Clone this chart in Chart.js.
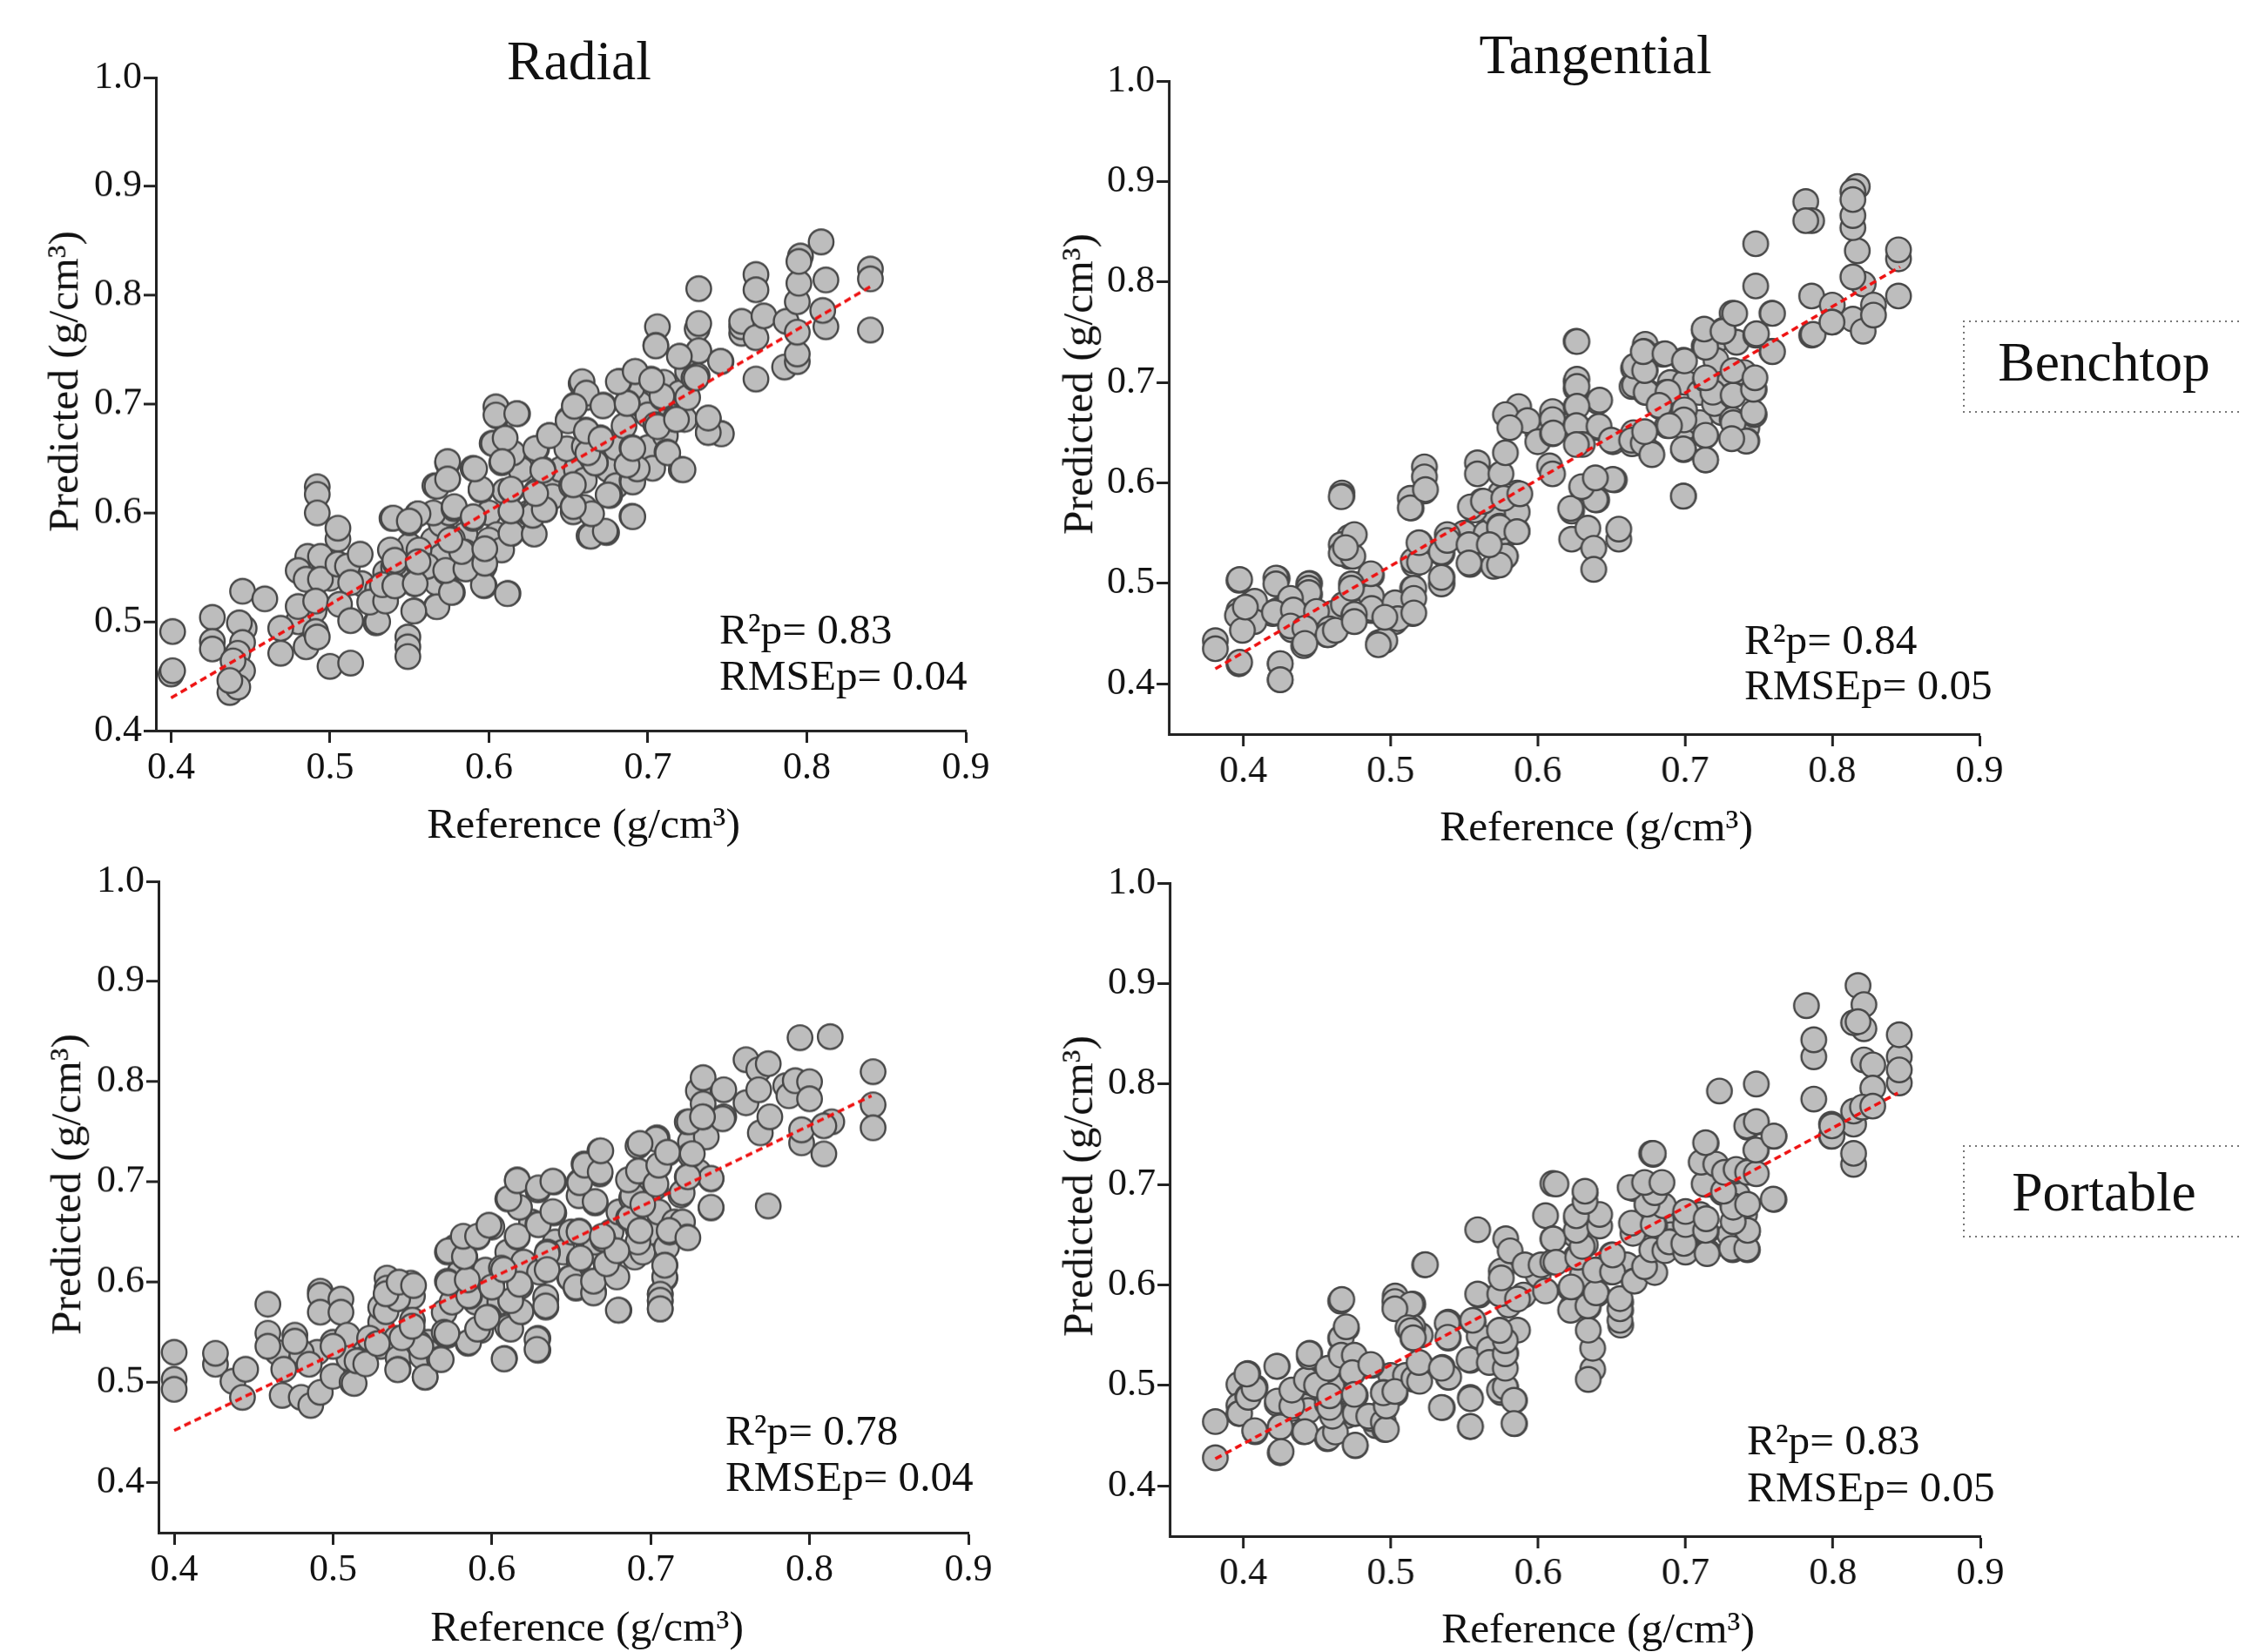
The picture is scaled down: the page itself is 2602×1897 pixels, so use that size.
<!DOCTYPE html>
<html><head><meta charset="utf-8">
<script src="https://cdn.jsdelivr.net/npm/chart.js@4"></script>
<style>
html,body{margin:0;padding:0;background:#fff;width:2602px;height:1897px;overflow:hidden}
canvas{position:absolute}
.t{position:absolute;font-family:"Liberation Serif",serif;color:#111;white-space:nowrap;line-height:1}
.c{transform:translate(-50%,-50%)}
.l{transform:translateY(-50%)}
.r{transform:translate(-50%,-50%) rotate(-90deg)}
.box{position:absolute;box-sizing:border-box;
 background:
  repeating-linear-gradient(90deg,#777 0 2px,transparent 2px 7px) left top/100% 2px no-repeat,
  repeating-linear-gradient(90deg,#777 0 2px,transparent 2px 7px) left bottom/100% 2px no-repeat,
  repeating-linear-gradient(0deg,#777 0 2px,transparent 2px 7px) left top/2px 100% no-repeat}
</style></head><body>
<canvas id="c0"></canvas><canvas id="c1"></canvas><canvas id="c2"></canvas><canvas id="c3"></canvas>
<script>
const xTickValues=[0.4,0.5,0.6,0.7,0.8,0.9];
const yTickValues=[0.4,0.5,0.6,0.7,0.8,0.9,1.0];
const xAxisLabel="Reference (g/cm³)";
const yAxisLabel="Predicted (g/cm³)";
const radialFit=[[0.4,0.43],[0.84,0.808]];
const tangentialFit=[[0.381,0.415],[0.846,0.815]];
const radialPortableFit=[[0.4,0.452],[0.839,0.786]];
const tangentialPortableFit=[[0.381,0.427],[0.844,0.791]];
const radialBenchtop=[[.52,.535],[.53,.53],[.535,.545],[.54,.55],[.545,.56],[.55,.54],[.56,.56],[.565,.575],[.57,.59],[.575,.6],[.58,.57],[.585,.58],[.59,.56],[.6,.6],[.605,.58],[.61,.62],[.62,.64],[.625,.6],[.63,.62],[.615,.655],[.64,.63],[.645,.64],[.655,.64],[.66,.63],[.665,.65],[.67,.66],[.675,.64],[.68,.66],[.685,.68],[.695,.7],[.7,.69],[.71,.72],[.715,.69],[.72,.71],[.725,.73],[.69,.715],[.7,.66],[.68,.625],[.66,.605],[.64,.615],[.6,.575],[.595,.545],[.58,.55],[.57,.56],[.565,.6],[.55,.57],[.53,.52],[.51,.545],[.5,.54],[.49,.51],[.48,.5],[.44,.46],
[.401,.491],[.4,.452],[.401,.455],[.426,.504],[.426,.482],[.426,.475],[.445,.528],[.459,.521],[.446,.494],[.443,.499],[.445,.481],[.442,.471],[.445,.455],[.439,.464],[.437,.435],[.442,.44],[.437,.446],[.469,.494],[.469,.471],[.48,.514],[.485,.477],[.491,.491],[.492,.486],[.492,.624],[.492,.617],[.492,.6],[.505,.576],[.505,.586],[.486,.56],[.494,.56],[.48,.547],[.485,.539],[.494,.539],[.491,.519],[.505,.553],[.511,.551],[.519,.562],[.513,.536],[.506,.516],[.513,.501],[.5,.459],[.513,.462],[.529,.499],[.53,.5],[.549,.486],[.549,.477],[.549,.468],[.553,.51],[.567,.514],[.577,.527],[.525,.518],[.535,.519],[.533,.534],[.541,.533],[.553,.535],[.539,.595],[.55,.591],[.555,.599],[.538,.566],[.541,.554],[.555,.554],[.556,.566],[.567,.536],[.573,.546],[.561,.551],[.612,.526],[.597,.533],[.597,.551],[.598,.566],[.585,.564],[.577,.576],[.578,.604],[.59,.595],[.595,.621],[.59,.641],[.574,.646],[.574,.631],[.566,.625],[.608,.646],[.602,.664],[.61,.669],[.605,.696],[.605,.689],[.618,.691],[.614,.621],[.614,.601],[.614,.581],[.608,.566],[.628,.581],[.635,.603],[.628,.601],[.634,.64],[.63,.659],[.638,.671],[.65,.686],[.654,.699],[.658,.719],[.661,.706],[.649,.659],[.652,.625],[.653,.606],[.653,.601],[.663,.579],[.674,.582],[.69,.597],[.721,.64],[.69,.63],[.676,.616],[.687,.644],[.69,.66],[.667,.646],[.66,.661],[.661,.676],[.672,.699],[.67,.669],[.687,.701],[.682,.721],[.692,.73],[.702,.723],[.706,.771],[.705,.754],[.709,.706],[.705,.681],[.711,.671],[.712,.656],[.703,.641],[.717,.686],[.723,.686],[.725,.706],[.72,.744],[.731,.726],[.729,.724],[.732,.749],[.731,.769],[.732,.774],[.732,.806],[.738,.686],[.738,.674],[.746,.673],[.746,.739],[.768,.723],[.759,.765],[.759,.771],[.759,.776],[.768,.819],[.768,.805],[.768,.761],[.773,.781],[.786,.734],[.794,.739],[.794,.746],[.787,.776],[.794,.766],[.794,.794],[.795,.811],[.796,.836],[.795,.831],[.809,.849],[.812,.814],[.812,.771],[.81,.786],[.84,.824],[.84,.815],[.84,.768],
[.5408,.533],[.5408,.5565],[.5673,.5138],[.5527,.5098],[.5536,.5351],[.5764,.527],[.5728,.5471],[.5965,.5338],[.6116,.5258],[.5855,.5485],[.5974,.5538],[.5828,.5645],[.5554,.5551],[.5755,.5752],[.5974,.5671],[.5399,.5952],[.5554,.5992],[.5499,.5925],[.5782,.6058],[.5901,.5965],[.6139,.5813],[.6285,.5805],[.6276,.5978],[.6139,.6018],[.6348,.6032],[.6294,.6178],[.5673,.6245],[.574,.6472],[.574,.6312],[.595,.6218],[.6139,.6218],[.591,.6405],[.6029,.6637],[.6102,.6686],[.6084,.6472],[.6044,.6974],[.6044,.6899],[.6175,.6912],[.6294,.6592],[.6339,.6392],[.6381,.671],[.6641,.5786],[.6732,.5832],[.6646,.5992],[.6531,.6058],[.6531,.6259],[.6668,.6459],[.6622,.6552],[.675,.6165],[.6905,.5965],[.6905,.6285],[.6933,.6405],[.6869,.644],[.6905,.6592],[.7125,.6552],[.7221,.6397],[.6498,.6846],[.6613,.6752],[.6705,.668],[.7061,.6792],[.718,.6859],[.7462,.6726],[.738,.6739],[.738,.6872],[.6586,.7206],[.6613,.71],[.6537,.698],[.6717,.6984],[.6869,.7006],[.7088,.7073],[.6814,.7206],[.692,.73],[.7024,.722],[.7304,.724],[.705,.7534],[.732,.749],[.7198,.7438],[.7457,.7393]];
const tangentialBenchtop=[[.42,.47],[.45,.47],[.46,.47],[.5,.47],[.55,.55],[.565,.55],[.57,.57],[.58,.55],[.6,.65],[.62,.66],[.665,.65],[.675,.69],[.69,.7],[.7,.7],[.71,.69],[.72,.7],[.73,.7],[.74,.71],[.72,.74],[.735,.74],[.7,.655],[.71,.66],[.69,.67],[.725,.67],
[.381,.443],[.381,.435],[.397,.503],[.397,.473],[.396,.468],[.406,.481],[.406,.462],[.397,.42],[.425,.42],[.425,.404],[.423,.505],[.423,.473],[.433,.484],[.433,.473],[.433,.454],[.441,.438],[.445,.5],[.445,.489],[.441,.454],[.457,.454],[.457,.449],[.468,.479],[.475,.468],[.475,.499],[.475,.495],[.467,.59],[.467,.587],[.472,.546],[.468,.535],[.472,.527],[.47,.533],[.487,.508],[.487,.487],[.487,.473],[.492,.441],[.503,.462],[.515,.495],[.515,.484],[.515,.47],[.516,.519],[.52,.54],[.514,.584],[.514,.575],[.523,.616],[.523,.592],[.523,.606],[.535,.5],[.535,.506],[.535,.53],[.539,.546],[.554,.519],[.554,.538],[.557,.573],[.559,.62],[.559,.609],[.562,.582],[.57,.517],[.575,.522],[.578,.527],[.574,.546],[.574,.557],[.586,.552],[.586,.571],[.586,.59],[.575,.59],[.575,.609],[.578,.63],[.587,.676],[.578,.668],[.593,.662],[.581,.655],[.6,.641],[.608,.617],[.61,.609],[.61,.671],[.61,.663],[.61,.649],[.626,.741],[.626,.701],[.626,.694],[.626,.676],[.626,.658],[.63,.639],[.641,.681],[.641,.655],[.651,.641],[.623,.572],[.623,.544],[.63,.595],[.64,.603],[.652,.603],[.64,.583],[.634,.555],[.638,.535],[.638,.514],[.655,.544],[.655,.554],[.664,.639],[.672,.649],[.677,.63],[.664,.696],[.665,.714],[.673,.738],[.672,.731],[.673,.712],[.673,.69],[.685,.728],[.687,.69],[.683,.676],[.699,.722],[.699,.671],[.699,.633],[.699,.587],[.688,.657],[.714,.623],[.714,.647],[.714,.703],[.713,.752],[.713,.736],[.721,.722],[.72,.679],[.726,.752],[.732,.769],[.732,.687],[.732,.663],[.742,.655],[.742,.642],[.747,.693],[.747,.668],[.748,.796],[.748,.838],[.748,.747],[.759,.769],[.759,.731],[.782,.88],[.786,.861],[.782,.861],[.786,.786],[.786,.747],[.8,.777],[.8,.76],[.814,.763],[.821,.751],[.821,.798],[.814,.805],[.817,.831],[.814,.854],[.814,.866],[.817,.895],[.814,.89],[.814,.882],[.828,.777],[.828,.767],[.845,.786],[.845,.823],[.845,.832],
[.3975,.4215],[.3975,.5039],[.4077,.4822],[.4073,.462],[.3994,.4533],[.4014,.4764],[.4251,.4201],[.4251,.4042],[.4221,.5053],[.4221,.4995],[.4444,.4995],[.4444,.4952],[.4444,.4909],[.432,.4851],[.4211,.4712],[.434,.4735],[.4497,.4721],[.432,.4576],[.4418,.4553],[.4418,.4403],[.4586,.4547],[.4576,.449],[.4625,.4533],[.4665,.5862],[.4665,.5385],[.4665,.5298],[.4744,.527],[.4754,.5486],[.4694,.5356],[.4866,.5096],[.4734,.4995],[.4734,.4952],[.4872,.475],[.4754,.4692],[.4754,.462],[.4961,.4432],[.4917,.4389],[.503,.4807],[.5049,.4649],[.4961,.4663],[.5158,.4952],[.5158,.4851],[.5158,.4706],[.5154,.5226],[.5197,.5212],[.5193,.5405],[.5134,.5847],[.5134,.5752],[.5237,.5934],[.5345,.5313],[.5345,.4995],[.5345,.5059],[.5385,.5486],[.5385,.5428],[.5533,.5385],[.5533,.5203],[.5542,.5761],[.5631,.5818],[.5769,.5847],[.5878,.5891],[.574,.5486],[.574,.5558],[.5858,.5515],[.5779,.527],[.574,.5183],[.5671,.5385],
[.6223,.5746],[.6391,.5833],[.6298,.5963],[.6509,.6035],[.6391,.605],[.6988,.5868],[.6105,.6497],[.6266,.7407],[.6266,.7032],[.6266,.696],[.642,.6824],[.6266,.6763],[.6262,.657],[.6416,.6564],[.6302,.6382],[.6262,.6382],[.6499,.6425],[.6637,.6425],[.6716,.6396],[.6775,.6281],[.6726,.651],[.6657,.6974],[.6736,.6902],[.6884,.6902],[.6824,.6772],[.6657,.7162],[.6726,.7118],[.6716,.7306],[.6864,.7286],[.6996,.7214],[.6996,.6728],[.6992,.6627],[.6894,.657],[.6988,.6339],[.714,.6229],[.714,.6474],[.7189,.6902],[.714,.7046],[.7327,.6873],[.7327,.6599],[.7327,.7118],[.7465,.67],[.7465,.6931],[.7475,.7046],[.7416,.6416],[.7317,.644],[.7594,.7306],[.714,.735],[.713,.7531],[.7258,.7508],[.7485,.7485],[.7337,.7687],[.7594,.7687],[.787,.7479],[.7998,.76]];
const radialPortable=[[.52,.53],[.53,.56],[.545,.53],[.55,.55],[.56,.54],[.57,.57],[.575,.58],[.58,.61],[.59,.58],[.6,.6],[.605,.58],[.61,.63],[.6,.655],[.62,.62],[.625,.66],[.63,.61],[.64,.64],[.645,.63],[.65,.65],[.66,.63],[.665,.64],[.675,.65],[.68,.67],[.69,.625],[.695,.63],[.7,.65],[.705,.67],[.71,.635],[.715,.66],[.72,.66],[.73,.71],[.725,.74],[.735,.745],[.57,.55],[.56,.53],[.5,.54],[.49,.53],[.48,.53],[.465,.53],
[.4,.53],[.4,.503],[.4,.493],[.426,.518],[.426,.529],[.437,.501],[.443,.485],[.445,.513],[.459,.578],[.459,.549],[.459,.536],[.469,.513],[.468,.487],[.476,.547],[.476,.541],[.48,.485],[.486,.477],[.485,.518],[.492,.49],[.5,.506],[.492,.591],[.492,.587],[.492,.57],[.505,.583],[.505,.57],[.509,.547],[.51,.524],[.512,.5],[.5,.536],[.519,.523],[.523,.544],[.53,.536],[.53,.575],[.534,.604],[.534,.594],[.542,.599],[.549,.599],[.54,.583],[.55,.586],[.54,.544],[.544,.544],[.541,.524],[.541,.513],[.556,.526],[.558,.505],[.567,.523],[.55,.562],[.554,.539],[.572,.547],[.572,.63],[.577,.635],[.572,.601],[.583,.625],[.585,.601],[.586,.586],[.585,.539],[.591,.645],[.598,.656],[.596,.612],[.598,.565],[.593,.552],[.608,.524],[.606,.614],[.61,.555],[.618,.57],[.612,.581],[.618,.596],[.616,.645],[.616,.702],[.61,.683],[.629,.544],[.629,.532],[.634,.583],[.634,.575],[.635,.63],[.629,.658],[.629,.692],[.639,.7],[.639,.669],[.649,.604],[.653,.594],[.655,.622],[.655,.7],[.658,.718],[.655,.651],[.664,.601],[.664,.591],[.665,.679],[.668,.708],[.668,.731],[.68,.572],[.678,.63],[.672,.617],[.67,.643],[.686,.664],[.688,.684],[.692,.653],[.692,.64],[.692,.736],[.692,.71],[.704,.744],[.703,.695],[.705,.716],[.711,.729],[.712,.65],[.709,.617],[.709,.604],[.706,.588],[.706,.581],[.706,.573],[.719,.687],[.723,.645],[.723,.705],[.725,.727],[.738,.674],[.738,.703],[.723,.76],[.73,.791],[.733,.804],[.733,.778],[.733,.765],[.746,.792],[.746,.765],[.76,.822],[.76,.779],[.774,.676],[.769,.749],[.768,.812],[.768,.792],[.774,.818],[.775,.765],[.785,.796],[.787,.786],[.794,.844],[.813,.845],[.795,.739],[.795,.752],[.791,.801],[.8,.8],[.8,.783],[.809,.728],[.814,.76],[.809,.756],[.84,.81],[.84,.777],[.84,.754],
[.5133,.499],[.5151,.5213],[.5206,.5184],[.5279,.5387],[.5407,.5126],[.558,.5054],[.5681,.5227],[.5553,.5358],[.5434,.5445],[.5498,.556],[.5334,.5705],[.5407,.5835],[.5334,.5884],[.5416,.6],[.5507,.5966],[.5854,.54],[.5717,.5488],[.591,.5531],[.6119,.5531],[.6077,.5233],[.6284,.543],[.6284,.5329],[.597,.5647],[.6183,.5705],[.6339,.585],[.6339,.5763],[.6119,.5815],[.5854,.5864],[.6,.5951],[.5726,.5994],[.5845,.6023],[.6174,.598],[.5726,.6313],[.5827,.6255],[.6074,.6125],[.6348,.6284],[.6348,.6125],[.582,.6458],[.591,.6458],[.616,.6458],[.5982,.6568],[.6174,.6747],[.6107,.6834],[.616,.7013],[.6293,.6941],[.6293,.6573],[.6384,.7007],[.6384,.6704],[.6494,.6038],[.653,.5951],[.664,.5893],[.664,.6009],[.6558,.624],[.6549,.6501],[.6787,.6052],[.6722,.6183],[.6787,.6313],[.6695,.6458],[.6549,.6863],[.665,.6805],[.6553,.6993],[.6585,.7167],[.6682,.71],[.6686,.7311],[.6796,.572],[.6869,.6646],[.6933,.6515],[.6887,.6863],[.695,.6776],[.686,.7022],[.6923,.7109],[.7033,.6979],[.7051,.7167],[.7033,.7427],[.6933,.7384],[.7088,.6052],[.7088,.6168],[.706,.5879],[.706,.582],[.706,.5734],[.7116,.6515],[.7234,.6443],[.7198,.6892],[.738,.6747],[.738,.7036],[.7234,.7051],[.7106,.7297],[.7262,.7282],[.7243,.76],[.7453,.763],[.7326,.765]];
const tangentialPortable=[[.44,.49],[.46,.5],[.47,.47],[.49,.46],[.5,.51],[.51,.51],[.52,.55],[.56,.59],[.57,.54],[.58,.58],[.59,.59],[.6,.61],[.625,.65],[.63,.61],[.66,.62],[.67,.66],[.685,.67],[.69,.65],[.7,.66],[.71,.67],[.72,.72],[.73,.65],[.735,.69],[.74,.67],
[.381,.464],[.381,.428],[.397,.501],[.397,.48],[.403,.512],[.397,.472],[.403,.489],[.408,.498],[.408,.454],[.423,.519],[.423,.482],[.425,.459],[.425,.433],[.433,.495],[.433,.477],[.441,.454],[.444,.475],[.445,.532],[.445,.503],[.449,.501],[.457,.516],[.457,.482],[.46,.477],[.457,.447],[.462,.469],[.466,.584],[.466,.547],[.47,.557],[.466,.53],[.474,.512],[.476,.49],[.476,.472],[.476,.44],[.487,.52],[.487,.467],[.495,.493],[.496,.477],[.496,.456],[.503,.492],[.503,.589],[.503,.577],[.515,.581],[.515,.558],[.515,.547],[.516,.506],[.52,.521],[.523,.62],[.535,.518],[.535,.478],[.539,.508],[.539,.563],[.539,.547],[.554,.525],[.554,.488],[.554,.459],[.556,.563],[.559,.591],[.559,.655],[.57,.524],[.578,.532],[.575,.493],[.578,.498],[.574,.555],[.584,.485],[.584,.462],[.586,.555],[.574,.591],[.575,.614],[.575,.607],[.578,.646],[.581,.634],[.586,.586],[.591,.62],[.605,.594],[.602,.62],[.61,.623],[.605,.669],[.61,.701],[.61,.646],[.622,.596],[.623,.578],[.626,.628],[.626,.666],[.632,.64],[.632,.692],[.634,.578],[.637,.516],[.634,.506],[.637,.537],[.634,.555],[.64,.591],[.641,.669],[.64,.615],[.65,.63],[.65,.613],[.656,.583],[.656,.575],[.656,.56],[.665,.604],[.664,.661],[.665,.696],[.672,.7],[.678,.73],[.682,.7],[.679,.692],[.674,.679],[.679,.659],[.679,.633],[.69,.643],[.7,.669],[.7,.64],[.715,.633],[.714,.723],[.714,.741],[.714,.7],[.714,.653],[.723,.793],[.725,.71],[.725,.692],[.732,.679],[.732,.635],[.742,.653],[.742,.635],[.733,.713],[.742,.713],[.742,.757],[.748,.762],[.748,.734],[.748,.8],[.76,.748],[.76,.685],[.782,.878],[.787,.827],[.787,.844],[.787,.785],[.799,.748],[.799,.76],[.814,.72],[.814,.731],[.814,.76],[.814,.773],[.817,.898],[.821,.879],[.821,.855],[.814,.861],[.817,.862],[.821,.824],[.827,.819],[.827,.796],[.82,.777],[.827,.778],[.845,.801],[.845,.827],[.845,.849],[.845,.814],
[.3975,.4723],[.4034,.4882],[.4073,.4969],[.4024,.5113],[.4077,.455],[.4231,.4845],[.425,.4587],[.4256,.4342],[.4227,.5191],[.4329,.4796],[.4329,.4954],[.4418,.4541],[.4428,.5056],[.4447,.5287],[.4447,.5315],[.4497,.5004],[.4575,.4478],[.4625,.4536],[.4605,.4694],[.4585,.4781],[.4585,.4897],[.4575,.5171],[.4664,.5474],[.4698,.5584],[.4668,.5856],[.4664,.5301],[.4753,.5301],[.4739,.5128],[.4865,.5209],[.4759,.4723],[.4753,.4911],[.4759,.4406],[.4851,.4694],[.495,.4637],[.497,.4564],[.497,.4795],[.495,.4926],[.5028,.494],[.5028,.5835],[.5137,.5807],[.5028,.5763],[.5117,.5575],[.5137,.5546],[.5153,.5474],[.5157,.507],[.5196,.5041],[.5192,.5229],[.5235,.6202],[.5344,.4781],[.5393,.5084],[.5344,.5171],[.5383,.5619],[.5387,.548],[.5541,.4868],[.5541,.4593],[.5531,.5258],[.56,.5489],[.5556,.5648],[.5669,.5359],[.5669,.5229],[.5738,.4954],[.5777,.4983],[.5777,.5171],[.5777,.5315],[.5777,.5445],[.5738,.5547],[.5836,.4853],[.5836,.4622],
[.6102,.6457],[.6121,.6226],[.6121,.7005],[.622,.5749],[.6224,.598],[.6338,.5792],[.6393,.5922],[.6555,.5648],[.6555,.5763],[.6555,.5864],[.6269,.6275],[.6299,.6384],[.6259,.6543],[.6417,.6587],[.6417,.6702],[.6259,.6688],[.6318,.6832],[.6318,.6933],[.6387,.6148],[.6505,.613],[.6505,.6298],[.6653,.6038],[.6791,.6124],[.6722,.6182],[.6771,.635],[.686,.6341],[.689,.6428],[.6643,.6514],[.6633,.6615],[.6781,.6601],[.685,.6789],[.6738,.6803],[.6791,.6919],[.6624,.697],[.6722,.702],[.684,.702],[.677,.7309],[.6781,.7309],[.7,.6327],[.6988,.6413],[.7,.6601],[.7,.6731],[.7146,.6312],[.7136,.6543],[.714,.6659],[.7126,.7005],[.7106,.7222],[.7205,.7202],[.7136,.7416],[.7313,.6364],[.7415,.6361],[.7421,.6543],[.7323,.663],[.7323,.6774],[.7421,.6803],[.7595,.6855],[.7258,.6933],[.7264,.7121],[.7343,.715],[.7421,.7121],[.748,.7107],[.7477,.7343],[.7415,.7583],[.748,.7626],[.7599,.7482],[.7993,.7482],[.7993,.7583]];

const panels=[
 {id:'c0',pts:radialBenchtop,fit:radialFit,axisX:179,x04:196.4,x09:1109,top:89.4,bottom:838.8,yMin:0.4,name:"Radial benchtop"},
 {id:'c1',pts:tangentialBenchtop,fit:tangentialFit,axisX:1342,x04:1427.6,x09:2272.8,top:92.5,bottom:842.5,yMin:0.35,name:"Tangential benchtop"},
 {id:'c2',pts:radialPortable,fit:radialPortableFit,axisX:182,x04:200,x09:1112,top:1012,bottom:1759.8,yMin:0.35,name:"Radial portable"},
 {id:'c3',pts:tangentialPortable,fit:tangentialPortableFit,axisX:1343,x04:1427.6,x09:2273.7,top:1014.4,bottom:1764.5,yMin:0.35,name:"Tangential portable"}
];
const tickFont={family:'"Liberation Serif",serif',size:44};
const ink='#222';
Chart.defaults.animation=false;
const PADL=100,PADT=40,PADR=40,PADB=100;
panels.forEach(p=>{
 const cv=document.getElementById(p.id);
 const w=p.x09-p.axisX, h=p.bottom-p.top;
 const W=w+PADL+PADR, H=h+PADT+PADB;
 cv.style.left=(p.axisX-PADL)+'px'; cv.style.top=(p.top-PADT)+'px';
 cv.style.width=W+'px'; cv.style.height=H+'px'; cv.width=W; cv.height=H;
 const xMin=0.4-(p.x04-p.axisX)*0.5/(p.x09-p.x04);
 new Chart(cv,{
  type:'scatter',
  data:{datasets:[
   {label:'Fit',type:'line',data:p.fit.map(a=>({x:a[0],y:a[1]})),borderColor:'#ee1212',borderWidth:3.5,borderDash:[8,5],pointRadius:0,fill:false,tension:0},
   {label:p.name,data:p.pts.map(a=>({x:a[0],y:a[1]})),pointRadius:14.2,backgroundColor:'#bdbdbd',borderColor:'#484848',borderWidth:2.4,clip:false}
  ]},
  options:{
   responsive:false,
   layout:{padding:{left:0,top:PADT,right:PADR,bottom:0}},
   plugins:{legend:{display:false},title:{display:false},tooltip:{enabled:false}},
   scales:{
    x:{type:'linear',min:xMin,max:0.9,
     afterBuildTicks:s=>{s.ticks=xTickValues.map(v=>({value:v}))},
     afterFit:s=>{s.height=PADB},
     grid:{drawOnChartArea:false,drawTicks:true,tickLength:14,tickWidth:3,color:ink},
     border:{color:ink,width:3},
     ticks:{font:tickFont,color:'#111',padding:3,maxRotation:0,autoSkip:false,callback:v=>v.toFixed(1)}},
    y:{type:'linear',min:p.yMin,max:1.0,
     afterBuildTicks:s=>{s.ticks=yTickValues.map(v=>({value:v}))},
     afterFit:s=>{s.width=PADL},
     grid:{drawOnChartArea:false,drawTicks:true,tickLength:14,tickWidth:3,color:ink},
     border:{color:ink,width:3},
     ticks:{font:tickFont,color:'#111',padding:2,autoSkip:false,callback:v=>v.toFixed(1)}}
   }
  }
 });
});
function addText(txt,x,y,size,cls){
 const d=document.createElement('div');d.className='t '+cls;d.textContent=txt;
 d.style.left=x+'px';d.style.top=y+'px';d.style.fontSize=size+'px';document.body.appendChild(d);
}
function addBox(x,y,w,h){const b=document.createElement('div');b.className='box';b.style.cssText=`left:${x}px;top:${y}px;width:${w}px;height:${h}px`;document.body.appendChild(b);}
addBox(2254,368,319,106);addBox(2254,1315,319,106);
[["Radial",665,70],["Tangential",1832,63]].forEach(a=>addText(a[0],a[1],a[2],63.5,'c'));
[["Benchtop",2416,416],["Portable",2416,1369]].forEach(a=>addText(a[0],a[1],a[2],63.5,'c'));
[[670,946],[1833,949],[674,1868],[1835,1870]].forEach(a=>addText(xAxisLabel,a[0],a[1],49.5,'c'));
[[73,438],[1238,441],[76,1360],[1238,1362]].forEach(a=>addText(yAxisLabel,a[0],a[1],49.5,'r'));
[["R²p= 0.83",826,723],["RMSEp= 0.04",826,776],["R²p= 0.84",2003,735],["RMSEp= 0.05",2003,787],["R²p= 0.78",833,1643],["RMSEp= 0.04",833,1696],["R²p= 0.83",2006,1654],["RMSEp= 0.05",2006,1708]].forEach(a=>addText(a[0],a[1],a[2],49.2,'l'));
</script>
</body></html>
